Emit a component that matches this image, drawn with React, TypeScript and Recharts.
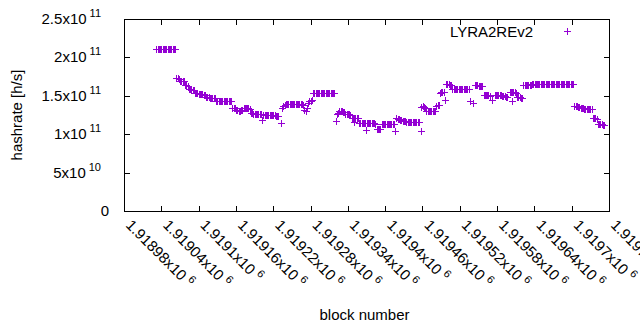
import React from 'react';
import { ScatterChart, Scatter, XAxis, YAxis, Legend, Label } from 'recharts';

const FONT = '"Liberation Sans", Arial, sans-serif';
const PURPLE = '#9400d3';

const CHART_W = 640;
const CHART_H = 330;
const MARGIN = { top: 19, right: 31, bottom: 0, left: 0 };
const Y_AXIS_W = 124;
const X_AXIS_H = 119;
const PLOT = {
  left: MARGIN.left + Y_AXIS_W,
  top: MARGIN.top,
  right: CHART_W - MARGIN.right,
  bottom: CHART_H - MARGIN.bottom - X_AXIS_H,
};

// block numbers (about two blocks apart where the marks run solid)
const blockNumber = [
  1919033, 1919035, 1919037, 1919039, 1919041, 1919043, 1919045, 1919047, 1919049, 1919051, 1919053, 1919055, 1919057, 1919059, 1919061, 1919063,
  1919065, 1919067, 1919069,
  1919071, 1919073, 1919075, 1919077,
  1919079, 1919081, 1919083,
  1919085, 1919087, 1919089, 1919091, 1919093,
  1919095, 1919097, 1919099, 1919101, 1919103, 1919105, 1919107, 1919109, 1919111,
  1919113, 1919115, 1919117, 1919119, 1919121, 1919123, 1919125, 1919127,
  1919129, 1919131, 1919133, 1919135, 1919137, 1919139, 1919141, 1919143, 1919145, 1919147, 1919149, 1919151, 1919153,
  1919155, 1919157, 1919159,
  1919161, 1919163, 1919165, 1919167, 1919169, 1919171,
  1919173, 1919175, 1919177, 1919179, 1919181, 1919183,
  1919185, 1919187, 1919189, 1919191, 1919193, 1919195, 1919197, 1919199, 1919201,
  1919202,
  1919205, 1919207, 1919209, 1919211, 1919213, 1919215, 1919217, 1919219, 1919221, 1919223, 1919225, 1919227, 1919229,
  1919233,
  1919235, 1919237, 1919239,
  1919241, 1919243, 1919245, 1919247, 1919249, 1919251, 1919253, 1919255, 1919257, 1919259, 1919261, 1919263, 1919265, 1919267, 1919269,
  1919271, 1919273, 1919275,
  1919277, 1919279, 1919281, 1919283,
  1919285, 1919287, 1919289, 1919291, 1919293, 1919295, 1919297, 1919299, 1919301, 1919303, 1919305, 1919307, 1919309, 1919311, 1919313, 1919315, 1919317, 1919319,
  1919321,
  1919323, 1919325,
  1919327, 1919329, 1919331, 1919333, 1919335,
  1919337, 1919339, 1919341, 1919343, 1919345,
  1919347, 1919349, 1919351, 1919353, 1919355, 1919357,
  1919350,
  1919359, 1919361, 1919363, 1919365, 1919367, 1919369, 1919371, 1919373, 1919375, 1919377, 1919379, 1919381, 1919383, 1919385,
  1919370,
  1919387, 1919389, 1919391, 1919393,
  1919395, 1919397, 1919399, 1919401, 1919403, 1919405, 1919407, 1919409, 1919411, 1919413, 1919415,
  1919417,
  1919419, 1919421, 1919423, 1919425, 1919427,
  1919429, 1919431, 1919433, 1919435, 1919437, 1919439, 1919441, 1919443, 1919445, 1919447, 1919449, 1919451, 1919453, 1919455,
  1919458,
  1919459, 1919461, 1919463, 1919465,
  1919467, 1919469, 1919471, 1919473, 1919475, 1919477, 1919479, 1919481,
  1919483, 1919485, 1919487,
  1919489, 1919491, 1919493, 1919495,
  1919497,
  1919499, 1919501, 1919503, 1919505, 1919507,
  1919509, 1919511, 1919513, 1919515, 1919517, 1919519, 1919521, 1919523, 1919525, 1919527, 1919529, 1919531, 1919533, 1919535,
  1919537, 1919542,
  1919545, 1919547, 1919549, 1919551, 1919553, 1919555, 1919557,
  1919559, 1919561, 1919563, 1919565, 1919567, 1919569,
  1919573,
  1919577, 1919579, 1919581, 1919583, 1919585, 1919587,
  1919589, 1919591, 1919593, 1919595, 1919597,
  1919604,
  1919601, 1919603, 1919605, 1919607, 1919609, 1919611,
  1919613, 1919615, 1919617, 1919619, 1919621,
  1919623, 1919625, 1919627, 1919629, 1919631, 1919633, 1919635,
  1919637, 1919639, 1919641, 1919643, 1919645, 1919647, 1919649, 1919651, 1919653, 1919655, 1919657, 1919659, 1919661, 1919663, 1919665, 1919667, 1919669,
  1919671, 1919673, 1919675, 1919677, 1919679, 1919681, 1919683, 1919685, 1919687, 1919689, 1919691, 1919693, 1919695, 1919697, 1919699, 1919701, 1919703,
  1919705, 1919707, 1919709, 1919711, 1919713,
  1919715, 1919717, 1919719, 1919721, 1919723, 1919725, 1919727, 1919729, 1919731, 1919733,
  1919735, 1919737, 1919739, 1919741,
  1919743, 1919745, 1919747, 1919749, 1919751, 1919753,
];

// hashrate in GH/s, same order as blockNumber
const hashrateGH = [
  210, 210, 210, 210, 210, 210, 210, 210, 210, 210, 210, 210, 210, 210, 210, 210,
  173, 172, 171,
  169, 169, 168, 168,
  163, 163, 162,
  158, 158, 157, 157, 157,
  153, 153, 153, 152, 152, 152, 152, 151, 151,
  148, 148, 148, 147, 147, 147, 147, 146,
  143, 143, 143, 143, 143, 143, 143, 143, 143, 143, 143, 143, 143,
  134, 134, 133,
  131, 131, 130, 130, 131, 131,
  133, 133, 133, 133, 133, 132,
  127, 127, 126, 126, 126, 126, 126, 126, 126,
  118,
  124, 124, 124, 124, 124, 124, 124, 124, 124, 124, 123, 123, 123,
  114,
  134, 136, 137,
  139, 139, 139, 139, 139, 139, 139, 139, 139, 139, 139, 139, 139, 139, 138,
  131, 130, 133,
  140, 142, 143, 144,
  153, 153, 153, 153, 153, 153, 153, 153, 153, 153, 153, 153, 153, 153, 153, 153, 153, 153,
  116,
  126, 127,
  129, 129, 129, 128, 128,
  126, 126, 126, 126, 125,
  121, 121, 121, 121, 120, 120,
  115,
  114, 114, 114, 114, 114, 114, 114, 114, 114, 114, 114, 114, 114, 113,
  105,
  106, 106, 106, 106,
  112, 112, 112, 112, 112, 112, 112, 112, 112, 112, 112,
  103,
  120, 119, 119, 118, 118,
  116, 116, 116, 115, 115, 115, 115, 115, 115, 115, 115, 115, 115, 115,
  103,
  135, 136, 135, 134,
  129, 129, 129, 129, 129, 129, 130, 130,
  136, 137, 138,
  153, 154, 154, 154,
  144,
  165, 165, 165, 164, 164,
  158, 158, 158, 158, 158, 158, 158, 158, 158, 158, 158, 158, 158, 158,
  142, 140,
  163, 163, 163, 162, 162, 162, 162,
  150, 150, 150, 150, 150, 149,
  144,
  151, 151, 151, 151, 151, 151,
  149, 149, 149, 148, 148,
  142,
  154, 154, 154, 154, 154, 153,
  148, 148, 148, 147, 147,
  163, 164, 164, 164, 164, 164, 164,
  165, 165, 165, 165, 165, 165, 165, 165, 165, 165, 165, 165, 165, 165, 165, 165, 165,
  165, 165, 165, 165, 165, 165, 165, 165, 165, 165, 165, 165, 165, 165, 165, 165, 165,
  136, 136, 136, 135, 135,
  133, 133, 133, 132, 132, 132, 132, 132, 132, 132,
  121, 120, 120, 119,
  113, 112, 112, 112, 111, 111,
];

const xDomain = [1918980, 1919760];
const xTicks = [1918980, 1919040, 1919100, 1919160, 1919220, 1919280, 1919340, 1919400, 1919460, 1919520, 1919580, 1919640, 1919700, 1919760];
const xTickLabels = ['1.91898x10', '1.91904x10', '1.9191x10', '1.91916x10', '1.91922x10', '1.91928x10', '1.91934x10', '1.9194x10', '1.91946x10', '1.91952x10', '1.91958x10', '1.91964x10', '1.9197x10', '1.91976x10'];
const xTickExponent = '6';

const yDomain = [0, 2.5e11];
const yTicks = [0, 5e10, 1e11, 1.5e11, 2e11, 2.5e11];
const yTickLabels = ['0', '5x10', '1x10', '1.5x10', '2x10', '2.5x10'];
const yTickExponents = ['', '10', '11', '11', '11', '11'];

const seriesName = 'LYRA2REv2';

const points = blockNumber.map((b, i) => ({ block: b, hashrate: hashrateGH[i] * 1e9 }));

const Plus = (props: any) => {
  const { cx, cy } = props;
  if (cx == null || cy == null) return null;
  return (
    <path
      d={`M${cx - 3.5},${cy}H${cx + 3.5}M${cx},${cy - 3.5}V${cy + 3.5}`}
      stroke={PURPLE}
      strokeWidth={1}
      shapeRendering="crispEdges"
      fill="none"
    />
  );
};

// thin filled bars for border and tick marks (1px, pixel aligned)
const Bar1 = ({ x, y, w, h }: { x: number; y: number; w: number; h: number }) => (
  <rect x={Math.round(x)} y={Math.round(y)} width={w} height={h} fill="#000000" />
);

// x tick: inward marks on bottom and top border + rotated label; the first one also draws the border box
const BottomTick = (props: any) => {
  const { x, y, payload } = props;
  const i = xTicks.indexOf(payload.value);
  const w = PLOT.right - PLOT.left;
  const h = PLOT.bottom - PLOT.top;
  return (
    <g>
      {i === 0 ? (
        <g>
          <Bar1 x={PLOT.left} y={PLOT.top} w={w + 1} h={1} />
          <Bar1 x={PLOT.left} y={PLOT.bottom} w={w + 1} h={1} />
          <Bar1 x={PLOT.left} y={PLOT.top} w={1} h={h + 1} />
          <Bar1 x={PLOT.right} y={PLOT.top} w={1} h={h + 1} />
        </g>
      ) : null}
      <Bar1 x={x} y={y - 5} w={1} h={5} />
      <Bar1 x={x} y={PLOT.top + 1} w={1} h={5} />
      <text transform={`translate(${x + 1},${y + 15}) rotate(45)`} fontFamily={FONT} fontSize={15} fill="#000">
        <tspan>{xTickLabels[i]}</tspan>
        <tspan dx={4} dy={-6} fontSize={11}>{xTickExponent}</tspan>
      </text>
    </g>
  );
};

// y tick: inward marks on left and right border + label with exponent
const LeftTick = (props: any) => {
  const { x, y, payload } = props;
  const i = yTicks.indexOf(payload.value);
  const exp = yTickExponents[i];
  return (
    <g>
      <Bar1 x={x + 1} y={y} w={5} h={1} />
      <Bar1 x={PLOT.right - 5} y={y} w={5} h={1} />
      <text x={x - (exp ? 23 : 15)} y={y + 5} textAnchor="end" fontFamily={FONT} fontSize={15} fill="#000">
        {yTickLabels[i]}
        {exp ? <tspan dx={3} dy={-7} fontSize={11}>{exp}</tspan> : null}
      </text>
    </g>
  );
};

const LegendBox = () => (
  <div style={{ display: 'flex', alignItems: 'center', fontFamily: FONT, fontSize: 15, color: '#000', lineHeight: '17px' }}>
    <span style={{ width: 93, textAlign: 'right' }}>{seriesName}</span>
    <svg width={7} height={7} style={{ marginLeft: 31 }}>
      <path d="M0,3.5H7M3.5,0V7" stroke={PURPLE} strokeWidth={1} fill="none" shapeRendering="crispEdges" />
    </svg>
  </div>
);

export default function App() {
  return (
    <div style={{ position: 'absolute', left: 0, top: 0, width: CHART_W, height: CHART_H, background: '#fff' }}>
      <ScatterChart width={CHART_W} height={CHART_H} margin={MARGIN}>
        <XAxis
          xAxisId="bottom"
          dataKey="block"
          type="number"
          domain={xDomain}
          ticks={xTicks}
          interval={0}
          tickSize={0}
          tickMargin={0}
          tickLine={false}
          axisLine={false}
          height={X_AXIS_H}
          tick={(p: any) => <BottomTick {...p} />}
        >
          <Label
            content={(p: any) => {
              const vb = p.viewBox;
              return (
                <text x={vb.x + vb.width / 2 - 2} y={vb.y + vb.height - 10} textAnchor="middle" fontFamily={FONT} fontSize={15} fill="#000">
                  block number
                </text>
              );
            }}
          />
        </XAxis>
        <YAxis
          yAxisId="left"
          dataKey="hashrate"
          type="number"
          domain={yDomain}
          ticks={yTicks}
          interval={0}
          tickSize={0}
          tickMargin={0}
          tickLine={false}
          axisLine={false}
          width={Y_AXIS_W}
          tick={(p: any) => <LeftTick {...p} />}
        >
          <Label
            content={(p: any) => {
              const vb = p.viewBox;
              const cx = 22;
              const cy = vb.y + vb.height / 2;
              return (
                <text x={cx} y={cy} transform={`rotate(-90 ${cx} ${cy})`} textAnchor="middle" fontFamily={FONT} fontSize={15} fill="#000">
                  hashrate [h/s]
                </text>
              );
            }}
          />
        </YAxis>
        <Legend
          layout="horizontal"
          verticalAlign="middle"
          align="center"
          wrapperStyle={{ left: 440, top: 23, width: 140, height: 17 }}
          content={() => <LegendBox />}
        />
        <Scatter
          name={seriesName}
          data={points}
          xAxisId="bottom"
          yAxisId="left"
          shape={Plus}
          isAnimationActive={false}
        />
      </ScatterChart>
    </div>
  );
}
